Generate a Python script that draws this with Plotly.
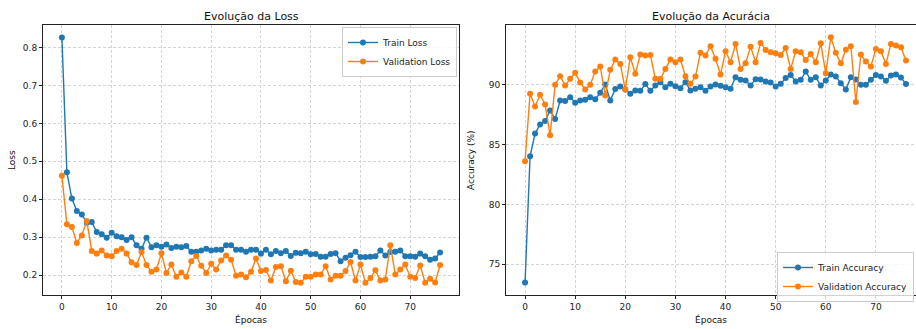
import plotly.graph_objects as go
from plotly.subplots import make_subplots

epochs = list(range(77))

train_loss = [0.826, 0.471, 0.402, 0.369, 0.360, 0.338, 0.340, 0.314, 0.308, 0.299,
              0.312, 0.303, 0.300, 0.293, 0.300, 0.279, 0.270, 0.299, 0.274, 0.279,
              0.275, 0.281, 0.272, 0.275, 0.274, 0.277, 0.262, 0.262, 0.265, 0.270,
              0.265, 0.267, 0.267, 0.279, 0.279, 0.267, 0.267, 0.262, 0.267, 0.267,
              0.257, 0.267, 0.255, 0.264, 0.258, 0.264, 0.251, 0.259, 0.258, 0.262,
              0.255, 0.256, 0.249, 0.249, 0.256, 0.258, 0.237, 0.246, 0.253, 0.262,
              0.248, 0.248, 0.249, 0.250, 0.265, 0.252, 0.261, 0.262, 0.265, 0.250,
              0.250, 0.249, 0.257, 0.250, 0.241, 0.244, 0.260]

val_loss = [0.462, 0.334, 0.327, 0.285, 0.305, 0.343, 0.264, 0.257, 0.265, 0.252,
            0.250, 0.264, 0.270, 0.257, 0.234, 0.227, 0.261, 0.227, 0.209, 0.215,
            0.258, 0.206, 0.228, 0.196, 0.207, 0.196, 0.237, 0.251, 0.225, 0.206,
            0.230, 0.215, 0.239, 0.252, 0.241, 0.199, 0.202, 0.195, 0.209, 0.244,
            0.211, 0.214, 0.186, 0.222, 0.224, 0.184, 0.212, 0.182, 0.180, 0.196,
            0.196, 0.202, 0.202, 0.224, 0.189, 0.199, 0.199, 0.211, 0.235, 0.186,
            0.228, 0.180, 0.193, 0.213, 0.186, 0.189, 0.279, 0.202, 0.215, 0.228,
            0.196, 0.193, 0.226, 0.180, 0.191, 0.181, 0.227]

train_acc = [73.47, 84.03, 85.92, 86.69, 86.97, 87.86, 87.14, 88.69, 88.64, 88.97,
             88.50, 88.69, 88.75, 88.97, 88.80, 89.33, 90.03, 88.69, 89.64, 89.86,
             89.61, 89.25, 89.53, 89.50, 90.06, 89.50, 89.94, 90.22, 89.80, 90.08,
             89.89, 89.72, 90.22, 89.53, 89.67, 89.80, 89.50, 89.86, 90.03, 89.92,
             89.80, 89.67, 90.64, 90.42, 90.36, 89.94, 90.47, 90.44, 90.28, 90.19,
             89.86, 90.08, 90.56, 90.83, 90.28, 90.42, 91.11, 90.42, 90.64, 89.94,
             90.36, 90.86, 90.69, 90.14, 89.61, 90.64, 90.44, 90.00, 90.00, 90.42,
             90.83, 90.69, 90.33, 90.78, 90.86, 90.61, 90.06]

val_acc = [83.61, 89.25, 88.19, 89.17, 88.36, 85.78, 90.00, 90.72, 89.94, 90.50,
           91.00, 90.19, 89.61, 90.00, 91.11, 91.53, 89.11, 91.25, 92.11, 91.75,
           89.61, 92.31, 90.92, 92.53, 92.44, 92.50, 90.50, 90.50, 91.33, 92.11,
           91.89, 92.11, 90.72, 90.08, 90.69, 92.67, 92.44, 93.22, 92.17, 90.86,
           92.81, 91.89, 93.42, 91.33, 91.81, 93.19, 91.89, 93.50, 92.92, 92.72,
           92.64, 92.50, 93.08, 91.33, 92.81, 92.72, 92.08, 92.58, 91.89, 93.47,
           90.97, 93.97, 92.67, 91.81, 92.94, 93.22, 88.56, 92.53, 91.94, 91.53,
           93.00, 92.81, 91.75, 93.42, 93.28, 93.14, 92.03]

x_ticks = [0, 10, 20, 30, 40, 50, 60, 70]
loss_ticks = [0.2, 0.3, 0.4, 0.5, 0.6, 0.7, 0.8]
acc_ticks = [75, 80, 85, 90]

W, H = 916, 329
BLUE = "#1f77b4"
ORANGE = "#ff7f0e"
FONT = "DejaVu Sans"

fig = make_subplots(rows=1, cols=2)

def add(x, y, name, color, col, legend):
    fig.add_trace(go.Scatter(x=x, y=y, name=name, mode="lines+markers",
                             line=dict(color=color, width=1.4),
                             marker=dict(color=color, size=6),
                             legend=legend), row=1, col=col)

add(epochs, train_loss, "Train Loss", BLUE, 1, "legend")
add(epochs, val_loss, "Validation Loss", ORANGE, 1, "legend")
add(epochs, train_acc, "Train Accuracy", BLUE, 2, "legend2")
add(epochs, val_acc, "Validation Accuracy", ORANGE, 2, "legend2")

def px_x(p):
    return p / W

def px_y(p):
    return 1 - p / H

ydom = [px_y(295), px_y(25)]

axis_common = dict(showline=True, mirror=True, linecolor="#222", linewidth=1,
                   ticks="outside", ticklen=3, tickcolor="#222",
                   showgrid=True, gridcolor="#d4d4d4", griddash="3px,2px", gridwidth=0.8,
                   zeroline=False, tickfont=dict(family=FONT, size=9, color="#222"))

fig.update_xaxes(axis_common)
fig.update_yaxes(axis_common)

fig.update_layout(
    xaxis=dict(domain=[px_x(43), px_x(459)], range=[-3.8, 79.8], tickvals=x_ticks),
    xaxis2=dict(domain=[px_x(506), 1.0], range=[-3.8, 78.0], tickvals=x_ticks),
    yaxis=dict(domain=ydom, range=[0.148, 0.859], tickvals=loss_ticks, tickformat=".1f"),
    yaxis2=dict(domain=ydom, range=[72.43, 95.0], tickvals=acc_ticks),
)

legend_common = dict(bgcolor="rgba(255,255,255,0.8)", bordercolor="#cccccc", borderwidth=1,
                     font=dict(family=FONT, size=9, color="#222"), tracegroupgap=0,
                     itemwidth=30)

fig.update_layout(
    width=W, height=H,
    margin=dict(l=0, r=0, t=0, b=0, autoexpand=False),
    paper_bgcolor="white", plot_bgcolor="white",
    font=dict(family=FONT, size=9, color="#222"),
    legend=dict(legend_common, x=px_x(457), xanchor="right", y=px_y(27), yanchor="top"),
    legend2=dict(legend_common, x=px_x(914), xanchor="right", y=px_y(252), yanchor="top"),
    showlegend=True,
)

annots = [
    dict(text="Evolução da Loss", x=px_x(251), y=px_y(16), size=11),
    dict(text="Evolução da Acurácia", x=px_x(711), y=px_y(16), size=11),
    dict(text="Épocas", x=px_x(251), y=px_y(319), size=9),
    dict(text="Épocas", x=px_x(711), y=px_y(319), size=9),
]
for a in annots:
    fig.add_annotation(text=a["text"], x=a["x"], y=a["y"], xref="paper", yref="paper",
                       showarrow=False, xanchor="center", yanchor="middle",
                       font=dict(family=FONT, size=a["size"], color="#111"))

fig.add_annotation(text="Loss", x=px_x(12), y=px_y(160), xref="paper", yref="paper",
                   showarrow=False, textangle=-90, xanchor="center", yanchor="middle",
                   font=dict(family=FONT, size=9, color="#111"))
fig.add_annotation(text="Accuracy (%)", x=px_x(471), y=px_y(160), xref="paper", yref="paper",
                   showarrow=False, textangle=-90, xanchor="center", yanchor="middle",
                   font=dict(family=FONT, size=9, color="#111"))

fig.write_html("out.html", config={"displayModeBar": False},
               post_script="document.body.style.margin='0';document.body.style.overflow='hidden';")
